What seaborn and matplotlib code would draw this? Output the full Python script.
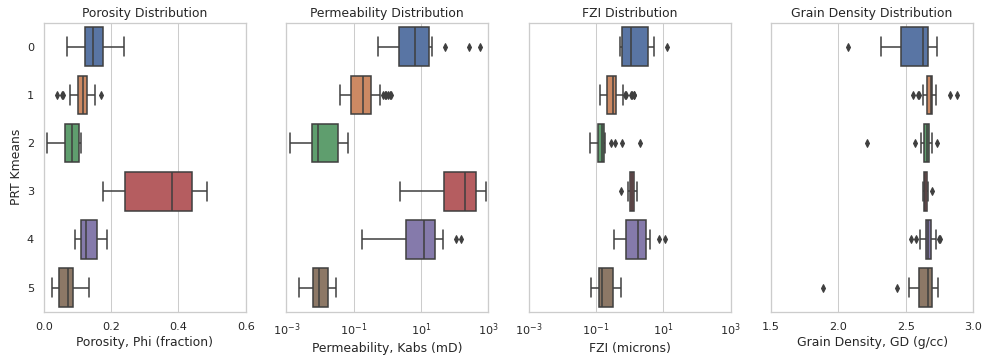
import numpy as np
import pandas as pd
import seaborn as sns
import matplotlib.pyplot as plt

clusters = ["0", "1", "2", "3", "4", "5"]

# (whisker low, Q1, median, Q3, whisker high) per cluster
porosity_stats = [(0.068, 0.123, 0.147, 0.177, 0.239),
                  (0.077, 0.102, 0.117, 0.128, 0.153),
                  (0.009, 0.062, 0.083, 0.105, 0.111),
                  (0.177, 0.240, 0.380, 0.441, 0.486),
                  (0.092, 0.110, 0.125, 0.159, 0.187),
                  (0.024, 0.046, 0.071, 0.087, 0.134)]
porosity_out = [[], [0.040, 0.055, 0.058, 0.171], [], [], [], []]

perm_stats = [(0.55, 2.18, 6.5, 17.1, 21.4),
              (0.0406, 0.0845, 0.193, 0.333, 0.618),
              (0.00126, 0.00569, 0.0090, 0.0347, 0.0689),
              (2.33, 48.9, 202, 429, 851),
              (0.184, 3.52, 12.1, 26.9, 44.6),
              (0.00233, 0.00624, 0.0094, 0.0171, 0.0295)]
perm_out = [[52, 265, 552], [0.75, 0.85, 0.95, 1.05, 1.2, 1.3], [], [], [109, 160], []]

fzi_stats = [(0.506, 0.59, 1.12, 3.6, 5.42),
             (0.135, 0.212, 0.32, 0.393, 0.634),
             (0.0679, 0.115, 0.147, 0.175, 0.18),
             (0.90, 1.05, 1.15, 1.32, 1.65),
             (0.351, 0.760, 1.77, 2.99, 4.02),
             (0.0726, 0.1227, 0.154, 0.320, 0.565)]
fzi_out = [[12.9], [0.72, 0.8, 1.1, 1.2, 1.3, 1.38], [0.274, 0.359, 0.608, 2.03],
           [0.567], [7.26, 11.2], []]

gd_stats = [(2.313, 2.464, 2.625, 2.663, 2.732),
            (2.628, 2.660, 2.685, 2.697, 2.727),
            (2.613, 2.633, 2.655, 2.672, 2.692),
            (2.625, 2.632, 2.645, 2.657, 2.668),
            (2.605, 2.650, 2.668, 2.685, 2.725),
            (2.521, 2.598, 2.662, 2.692, 2.739)]
gd_out = [[2.072], [2.553, 2.590, 2.600, 2.826, 2.881], [2.211, 2.565, 2.735],
          [2.697], [2.538, 2.578, 2.743, 2.752], [1.888, 2.432]]


def make_frame(stats, outliers, name):
    # rebuild samples whose quartiles / whiskers / fliers match the read values
    rows = []
    for c, (lo, q1, med, q3, hi), out in zip(clusters, stats, outliers):
        vals = [lo] + [q1] * 12 + [med] * 12 + [q3] * 12 + [hi] + list(out)
        rows += [(c, v) for v in vals]
    return pd.DataFrame(rows, columns=["PRT Kmeans", name])


panels = [
    (make_frame(porosity_stats, porosity_out, "PHI"), "PHI", "Porosity Distribution",
     "Porosity, Phi (fraction)", False, (0, 0.6), [0.0, 0.2, 0.4, 0.6]),
    (make_frame(perm_stats, perm_out, "KABS"), "KABS", "Permeability Distribution",
     "Permeability, Kabs (mD)", True, (1e-3, 1e3), [1e-3, 1e-1, 1e1, 1e3]),
    (make_frame(fzi_stats, fzi_out, "FZI"), "FZI", "FZI Distribution",
     "FZI (microns)", True, (1e-3, 1e3), [1e-3, 1e-1, 1e1, 1e3]),
    (make_frame(gd_stats, gd_out, "GD"), "GD", "Grain Density Distribution",
     "Grain Density, GD (g/cc)", False, (1.5, 3.0), [1.5, 2.0, 2.5, 3.0]),
]

sns.set_theme(style="whitegrid")
fig, axes = plt.subplots(1, 4, figsize=(983 / 74, 360 / 74), sharey=True)
fig.subplots_adjust(left=0.0445, right=0.990, top=0.937, bottom=0.134, wspace=0.2)

for ax, (df, col, title, xlabel, logx, lims, ticks) in zip(axes, panels):
    sns.boxplot(data=df, x=col, y="PRT Kmeans", hue="PRT Kmeans", order=clusters,
                hue_order=clusters, palette="deep", saturation=0.75, orient="h",
                linecolor="#3f3f3f", linewidth=1.5, fliersize=5, legend=False,
                flierprops={"marker": "d", "markerfacecolor": "#3f3f3f",
                            "markeredgecolor": "#3f3f3f"}, ax=ax)
    if logx:
        ax.set_xscale("log")
    ax.set_xlim(*lims)
    ax.set_xticks(ticks)
    ax.grid(False, axis="y")
    ax.set_title(title)
    ax.set_xlabel(xlabel)
    if ax is not axes[0]:
        ax.set_ylabel("")

fig.savefig("out.png", dpi=74)
